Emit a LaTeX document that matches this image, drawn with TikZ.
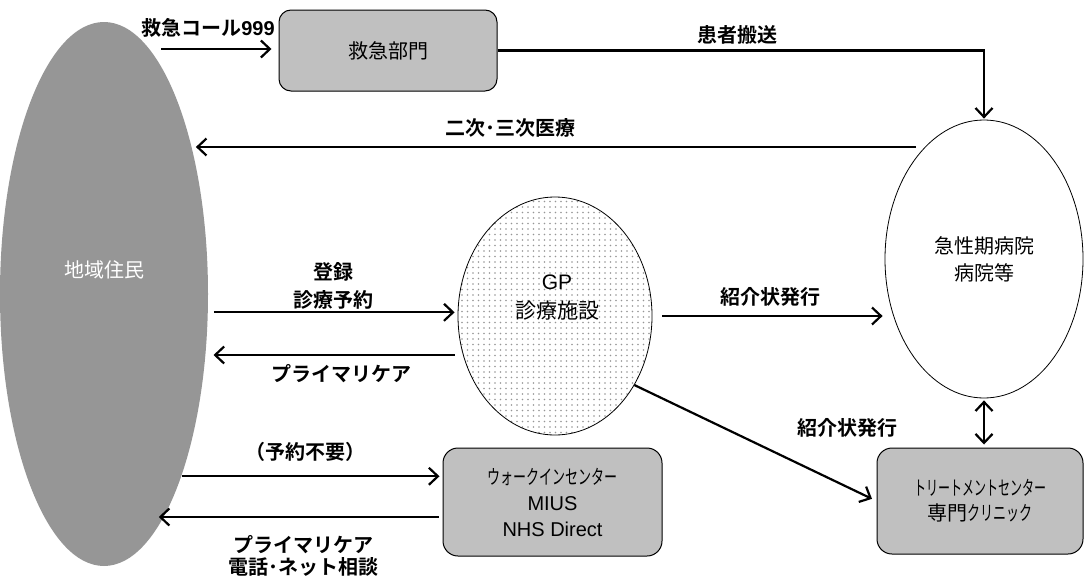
\documentclass[tikz,border=0pt]{standalone}
\usepackage{fontspec}
\setmainfont{Liberation Sans}
\newfontfamily\jp{Noto Sans CJK JP}[BoldFont={Noto Sans CJK JP Bold}]
\usetikzlibrary{arrows.meta,shapes.geometric,patterns.meta}
\newcommand{\cnd}[2][0.65]{\scalebox{#1}[1]{#2}}
\definecolor{popgray}{RGB}{150,150,150}
\definecolor{boxgray}{RGB}{192,192,192}
\definecolor{dotgray}{RGB}{150,150,150}
\begin{document}
\begin{tikzpicture}[x=1pt,y=-1pt,
 txt/.style={font=\jp\fontsize{20}{27}\selectfont, inner sep=0pt, align=center},
 lbl/.style={font=\jp\bfseries\fontsize{20}{28}\selectfont, inner sep=0pt, align=center},
 arr/.style={line width=2.2pt, -{Straight Barb[length=9pt,width=17pt]}},
 darr/.style={line width=2.2pt, {Straight Barb[length=9pt,width=17pt]}-{Straight Barb[length=9pt,width=17pt]}},
 box/.style={draw=black, line width=1pt, fill=boxgray, rounded corners=12pt},
 oval/.style={ellipse, draw=black, line width=0.8pt, inner sep=0pt},
]
\useasboundingbox (0,0) rectangle (1084,581);

% nodes
\node[ellipse, fill=popgray, minimum width=208pt, minimum height=544pt, inner sep=0pt] (pop) at (104,294) {};
\node[txt, text=white] (poplbl) at (104,270) {地域住民};

\node[box, txt, minimum width=218pt, minimum height=81pt] (emg) at (388,50.5) {救急部門};

\node[oval, pattern={Dots[distance=5.5pt,radius=0.8pt]}, pattern color=dotgray, minimum width=194pt, minimum height=238pt] (gp) at (555,316) {};
\node[txt, font=\jp\fontsize{21}{29}\selectfont] (gplbl) at (557,297.5) {{\rmfamily GP}\\診療施設};

\node[oval, txt, minimum width=198pt, minimum height=278pt] (hosp) at (984,259) {急性期病院\\病院等};

\node[box, txt, rounded corners=15pt, minimum width=219pt, minimum height=108pt, font=\jp\fontsize{20}{26}\selectfont] (walk) at (552.5,502) {\cnd{ウォークインセンター}\\{\rmfamily MIUS}\\{\rmfamily NHS Direct}};

\node[box, txt, rounded corners=15pt, minimum width=206pt, minimum height=106pt, font=\jp\fontsize{20}{25}\selectfont] (treat) at (980,501) {\cnd[0.6]{トリートメントセンター}\\専門\cnd{クリニック}};

% labels
\node[lbl] (l999) at (208,28) {救急コール{\rmfamily\bfseries 999}};
\node[lbl] (ltr) at (737,35) {患者搬送};
\node[lbl] (l23) at (510,128) {二次･三次医療};
\node[lbl] (lreg) at (333,286) {登録\\診療予約};
\node[lbl] (lpc1) at (341,374) {プライマリケア};
\node[lbl] (lref1) at (770,297) {紹介状発行};
\node[lbl] (lref2) at (847,428) {紹介状発行};
\node[lbl] (lwi) at (305,452) {（予約不要）};
\node[lbl, font=\jp\bfseries\fontsize{20}{22}\selectfont] (lpc2) at (303,556) {プライマリケア\\電話･ネット相談};

% connectors
\coordinate (c999) at (161,49);
\draw[arr, shorten >=7pt] (c999) -- (c999 -| emg.west);
\draw[arr, shorten >=1pt] (emg.east) -| (hosp.north);
\coordinate (c23) at (916,147);
\draw[arr, shorten >=4pt] (c23) -- (c23 -| pop.59);
\draw[arr, shorten <=6pt, shorten >=3pt] (pop.-10) -- (pop.-10 -| gp.west);
\draw[arr, shorten <=3pt, shorten >=8pt] (pop.-31 -| gp.west) -- (pop.-31);
\draw[arr, shorten <=1pt, shorten >=3pt] (pop.-67) -- (pop.-67 -| walk.west);
\draw[arr, shorten <=4pt, shorten >=-5pt] (pop.-75 -| walk.west) -- (pop.-75);
\draw[arr, shorten <=10pt, shorten >=2pt] (gp.east) -- (gp.east -| hosp.west);
\draw[arr, shorten >=5pt] (gp.-41) -- (treat.west);
\draw[darr, shorten <=2pt, shorten >=3pt] (hosp.south) -- (hosp.south |- treat.north);
\end{tikzpicture}
\end{document}
